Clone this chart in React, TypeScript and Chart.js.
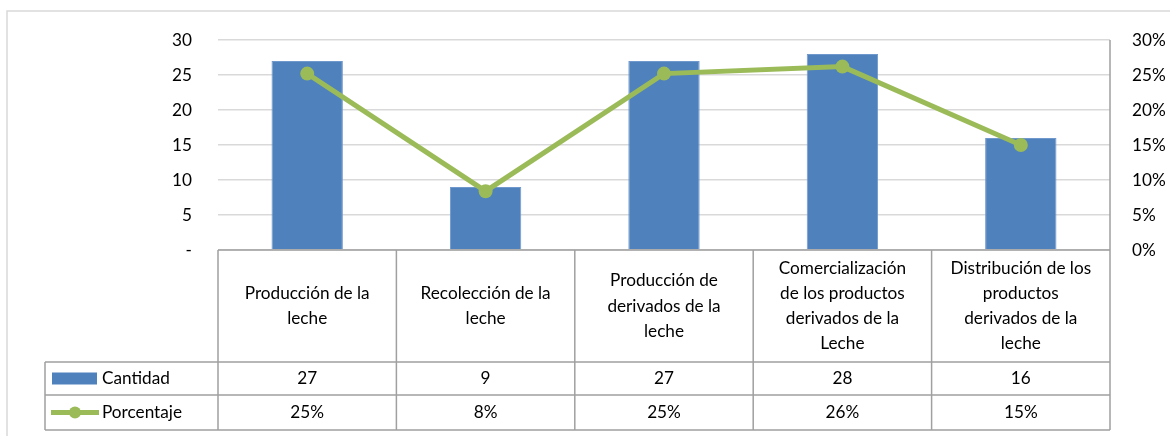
import React, { useEffect, useRef } from "react";
import { Chart, registerables } from "chart.js";
Chart.register(...registerables);

const categories = [
  "Producción de la leche",
  "Recolección de la leche",
  "Producción de derivados de la leche",
  "Comercialización de los productos derivados de la Leche",
  "Distribución de los productos derivados de la leche",
];
const headerLines = [
  ["Producción de la", "leche"],
  ["Recolección de la", "leche"],
  ["Producción de", "derivados de la", "leche"],
  ["Comercialización", "de los productos", "derivados de la", "Leche"],
  ["Distribución de los", "productos", "derivados de la", "leche"],
];
const cantidad = [27, 9, 27, 28, 16];
const porcentaje = [25.2, 8.4, 25.2, 26.2, 15.0];
const seriesNames = ["Cantidad", "Porcentaje"];

const FONT = "Lato";
const FS = 17.2;
const BLUE = "#4F81BD";
const GREEN = "#9BBB59";
const TABLE_LINE = "#a0a0a0";

const tablePlugin = {
  id: "dataTable",
  afterDraw(chart: any) {
    const { ctx, chartArea, scales } = chart;
    const xs = scales.x;
    const left = chartArea.left;
    const right = chartArea.right;
    const top = chartArea.top;
    const bottom = chartArea.bottom;
    const n = categories.length;
    const cw = (right - left) / n;
    const headerBottom = 362;
    const row2Bottom = 395;
    const row3Bottom = 430;
    const legendLeft = 45;
    ctx.save();
    ctx.strokeStyle = "#d9d9d9";
    ctx.lineWidth = 1.5;
    ctx.strokeRect(7, 11, 1200, 500);

    ctx.strokeStyle = TABLE_LINE;
    ctx.lineWidth = 1.5;
    ctx.beginPath();
    ctx.moveTo(left, bottom);
    ctx.lineTo(right, bottom);
    ctx.moveTo(right, top);
    ctx.lineTo(right, row3Bottom);
    for (let i = 0; i < n; i++) {
      const xb = left + i * cw;
      ctx.moveTo(xb, bottom);
      ctx.lineTo(xb, row3Bottom);
    }
    [headerBottom, row2Bottom, row3Bottom].forEach((y) => {
      ctx.moveTo(legendLeft, y);
      ctx.lineTo(right, y);
    });
    ctx.moveTo(legendLeft, headerBottom);
    ctx.lineTo(legendLeft, row3Bottom);
    ctx.stroke();

    ctx.fillStyle = "#000";
    ctx.font = `${FS}px ${FONT}`;
    ctx.textAlign = "center";
    ctx.textBaseline = "middle";
    const lh = 25.3;
    for (let i = 0; i < n; i++) {
      const cx = xs.getPixelForValue(i);
      const lines = headerLines[i];
      const cy = (bottom + headerBottom) / 2;
      const start = cy - ((lines.length - 1) * lh) / 2;
      lines.forEach((t, j) => ctx.fillText(t, cx, start + j * lh));
      ctx.fillText(String(cantidad[i]), cx, (headerBottom + row2Bottom) / 2);
      ctx.fillText(Math.round(porcentaje[i]) + "%", cx, (row2Bottom + row3Bottom) / 2);
    }

    const r2 = (headerBottom + row2Bottom) / 2;
    const r3 = (row2Bottom + row3Bottom) / 2;
    ctx.fillStyle = BLUE;
    ctx.fillRect(52, r2 - 6, 45, 12);
    ctx.strokeStyle = GREEN;
    ctx.lineWidth = 5;
    ctx.beginPath();
    ctx.moveTo(51, r3);
    ctx.lineTo(99, r3);
    ctx.stroke();
    ctx.fillStyle = GREEN;
    ctx.beginPath();
    ctx.arc(75, r3, 6, 0, Math.PI * 2);
    ctx.fill();
    ctx.fillStyle = "#000";
    ctx.textAlign = "left";
    ctx.fillText(seriesNames[0], 102, r2);
    ctx.fillText(seriesNames[1], 102, r3);
    ctx.restore();
  },
};

export default function App() {
  const ref = useRef<HTMLCanvasElement | null>(null);
  useEffect(() => {
    if (!ref.current) return;
    const chart = new Chart(ref.current, {
      type: "bar",
      data: {
        labels: categories,
        datasets: [
          {
            type: "line",
            label: seriesNames[1],
            data: porcentaje,
            yAxisID: "y1",
            borderColor: GREEN,
            backgroundColor: GREEN,
            borderWidth: 5,
            pointRadius: 7,
            pointBackgroundColor: GREEN,
            pointBorderWidth: 0,
            tension: 0,
            order: 0,
          },
          {
            type: "bar",
            label: seriesNames[0],
            data: cantidad,
            yAxisID: "y",
            backgroundColor: BLUE,
            borderColor: "#6f98cc",
            borderWidth: 1,
            categoryPercentage: 1,
            barPercentage: 0.4,
            order: 1,
          },
        ],
      },
      options: {
        animation: false,
        responsive: false,
        maintainAspectRatio: false,
        layout: { padding: { top: 40, bottom: 186, left: 0, right: 0 } },
        plugins: { legend: { display: false }, tooltip: { enabled: false } },
        scales: {
          x: { display: false },
          y: {
            position: "left",
            min: 0,
            max: 30,
            afterFit: (s: any) => {
              s.width = 218;
            },
            ticks: {
              stepSize: 5,
              padding: 26,
              color: "#000",
              font: { family: FONT, size: FS },
              callback: (v: any) => (v === 0 ? "-" : String(v)),
            },
            grid: { color: "#d9d9d9", lineWidth: 1.5, drawTicks: false },
            border: { display: false },
          },
          y1: {
            position: "right",
            min: 0,
            max: 30,
            afterFit: (s: any) => {
              s.width = 60;
            },
            ticks: {
              stepSize: 5,
              padding: 22,
              color: "#000",
              font: { family: FONT, size: FS },
              callback: (v: any) => v + "%",
            },
            grid: { display: false, drawTicks: false },
            border: { display: false },
          },
        },
      },
      plugins: [tablePlugin],
    });
    return () => chart.destroy();
  }, []);
  return (
    <div style={{ position: "absolute", left: 0, top: 0, width: 1170, height: 436 }}>
      <canvas ref={ref} width={1170} height={436} style={{ width: 1170, height: 436 }} />
    </div>
  );
}
